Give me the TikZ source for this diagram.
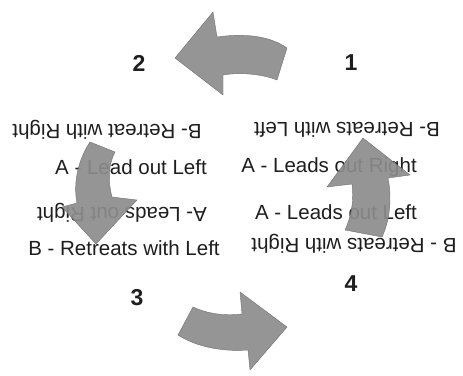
\documentclass[tikz,border=0pt]{standalone}
\usepackage{fontspec}
\setmainfont{Liberation Sans}
\definecolor{arrowgray}{HTML}{8C8C8C}
\definecolor{txt}{HTML}{1E1E1E}
\tikzset{
  lbl/.style={text=txt, inner sep=0pt, font=\fontsize{20.5}{24}\selectfont},
  flip/.style={lbl, rotate=180},
  num/.style={text=txt, inner sep=0pt, font=\fontsize{23}{26}\selectfont\bfseries},
  bigarrow/.style={fill=arrowgray, draw=arrowgray!80!black, line width=0.4pt, line join=round, fill opacity=0.92}
}
\begin{document}
\begin{tikzpicture}[x=1pt,y=-1pt]
\useasboundingbox[fill=white] (0,0) rectangle (463,375);
% numbers
\node[num] (n1) at (351,63) {1};
\node[num] (n2) at (139,63) {2};
\node[num] (n3) at (137,298) {3};
\node[num] (n4) at (351,284) {4};
% labels
\node[flip] (t1) at (347,130) {B- Retreats with Left};
\node[flip] (t2) at (107,130) {B- Retreat with Right};
\node[lbl]  (t3) at (131,167) {A - Lead out Left};
\node[lbl]  (t4) at (329,167) {A - Leads out Right};
\node[flip] (t5) at (122,213) {A- Leads out Right};
\node[lbl]  (t6) at (336,212) {A - Leads out Left};
\node[lbl]  (t7) at (124,248) {B - Retreats with Left};
\node[flip] (t8) at (354,244) {B - Retreats with Right};
% top arrow (pointing left)
\path[bigarrow] (175,58) -- (213,12) -- (217,37)
  .. controls (245,33) and (270,36) .. (287,48)
  -- (277,80)
  .. controls (262,74) and (240,72) .. (223,75)
  -- (223,95) -- cycle;
% bottom arrow (pointing right)
\path[bigarrow] (287,327) -- (250,370) -- (248,350)
  .. controls (220,352) and (195,346) .. (178,335)
  -- (193,307)
  .. controls (208,314) and (225,316) .. (242,314)
  -- (240,292) -- cycle;
% right arrow (pointing up)
\path[bigarrow] (363,138) -- (410,175) -- (388,178)
  .. controls (392,198) and (390,220) .. (382,237)
  -- (345,230)
  .. controls (352,215) and (354,198) .. (352,184)
  -- (327,187) -- cycle;
% left arrow (pointing down)
\path[bigarrow] (96,244) -- (62,207) -- (77,203)
  .. controls (73,183) and (78,160) .. (90,142)
  -- (115,152)
  .. controls (108,165) and (108,182) .. (112,197)
  -- (137,200) -- cycle;
\end{tikzpicture}
\end{document}
